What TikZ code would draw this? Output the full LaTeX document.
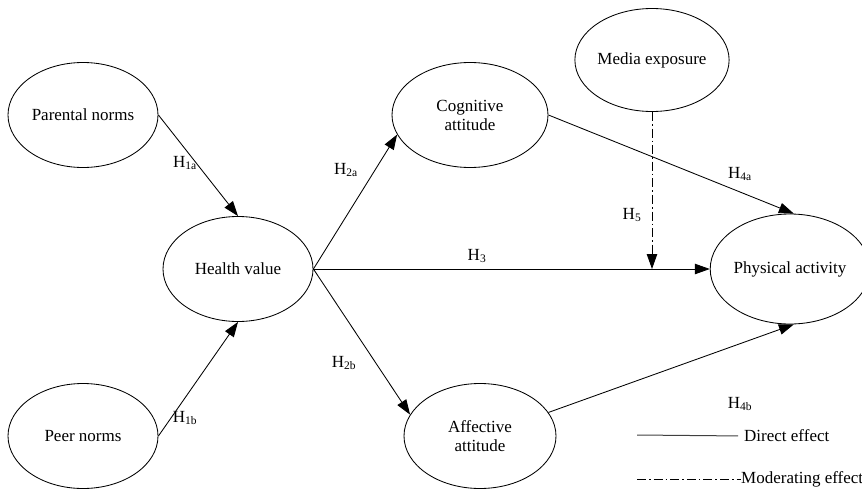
\documentclass[tikz,border=0pt]{standalone}
\usepackage{fontspec}
\setmainfont{Liberation Serif}
\usetikzlibrary{shapes.geometric,arrows.meta}

\tikzset{
  construct/.style={ellipse, draw, line width=0.85pt, inner sep=0pt,
    minimum width=150pt, minimum height=105pt, align=center,
    font=\fontsize{17}{19}\selectfont},
  tip/.style={-{Triangle[length=15pt,width=10.5pt]}},
  path/.style={line width=0.85pt, tip},
  moderation/.style={line width=0.85pt, dash pattern=on 9pt off 3pt on 1.6pt off 3pt},
  hyp/.style={font=\fontsize{17}{19}\selectfont, inner sep=0pt},
  legendtext/.style={font=\fontsize{17}{19}\selectfont, anchor=west, inner sep=0pt}
}
\newcommand{\hyplabel}[2]{H\textsubscript{\fontsize{11.5}{12}\selectfont #1#2}}

\begin{document}
\begin{tikzpicture}[x=1pt,y=-1pt]
  \useasboundingbox (0,0) rectangle (862,488);

  % constructs
  \node[construct] (pn)  at (83,115)  {Parental norms};
  \node[construct] (peer) at (83,436) {Peer norms};
  \node[construct] (hv)  at (238,269) {Health value};
  \node[construct, minimum width=156pt] (cog) at (470,115) {Cognitive\\attitude};
  \node[construct, minimum width=152pt] (aff) at (480,436) {Affective\\attitude};
  \node[construct, minimum width=141pt, minimum height=103pt] (me) at (652,60) {Media exposure};
  \node[construct, minimum width=140pt, minimum height=110pt] (pa) at (790,269) {Physical activity};

  % direct paths
  \draw[path] (pn.east) -- (hv.north);
  \draw[path] (peer.east) -- (hv.south);
  \draw[path] (hv.east) -- (cog.195);
  \draw[path] (hv.east) -- (aff.163);
  \draw[path] (hv.east) -- (pa.west);
  \draw[path] (cog.east) -- (pa.86);
  \draw[path] (aff.19) -- (pa.274);

  % moderation of the health value -> physical activity path
  \coordinate (modpt) at (me.south |- hv.east);
  \draw[moderation, tip] (me.south) -- (modpt);

  % hypothesis labels
  \node[hyp] (h1a) at (185,163) {\hyplabel{1}{a}};
  \node[hyp] (h1b) at (185,418) {\hyplabel{1}{b}};
  \node[hyp] (h2a) at (346,170) {\hyplabel{2}{a}};
  \node[hyp] (h2b) at (344,363) {\hyplabel{2}{b}};
  \node[hyp] (h3)  at (477,256) {\hyplabel{3}{}};
  \node[hyp] (h4a) at (740,174) {\hyplabel{4}{a}};
  \node[hyp] (h4b) at (740,404) {\hyplabel{4}{b}};
  \node[hyp] (h5)  at (632,215) {\hyplabel{5}{}};

  % legend
  \coordinate (ld1) at (637,435);
  \node[legendtext] (ldt) at (744,436) {Direct effect};
  \draw[line width=1pt, black!75, shorten >=6pt] (ld1) -- (ldt.west);
  \coordinate (lm1) at (637,479);
  \node[legendtext] (lmt) at (741,479) {Moderating effect};
  \draw[moderation] (lm1) -- (lmt.west);
\end{tikzpicture}
\end{document}
